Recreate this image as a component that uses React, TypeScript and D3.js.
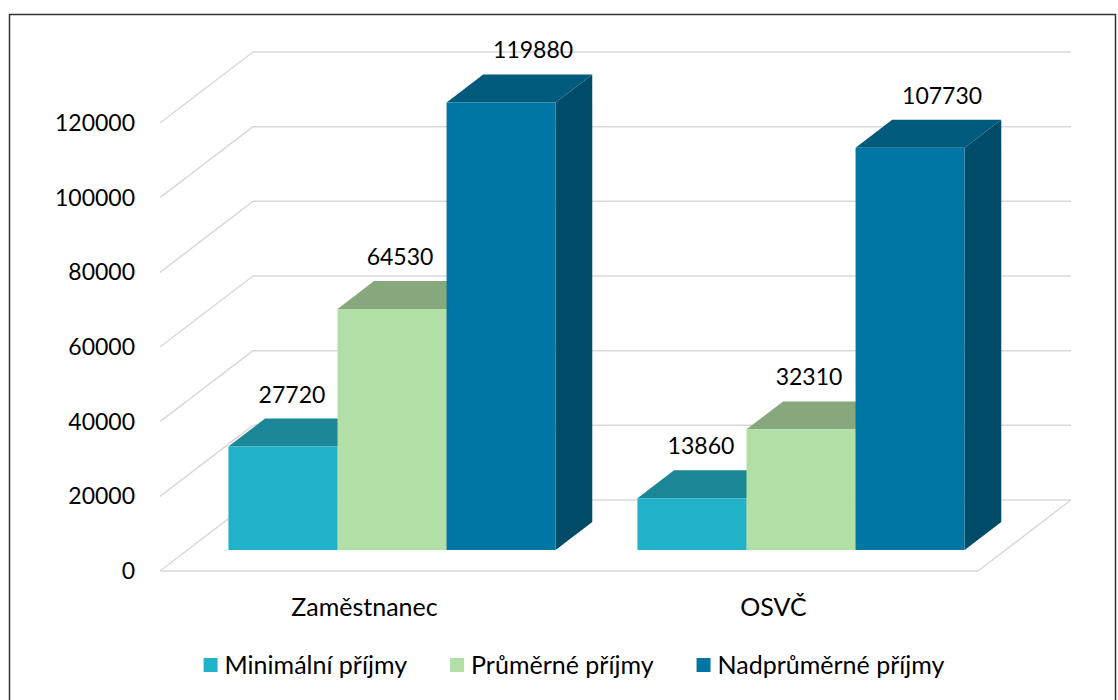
import * as React from 'react';
import { select, scaleLinear, scaleBand } from 'd3';

const categories = ['Zaměstnanec', 'OSVČ'];
const seriesNames = ['Minimální příjmy', 'Průměrné příjmy', 'Nadprůměrné příjmy'];
const minimalni = [27720, 13860];
const prumerne = [64530, 32310];
const nadprumerne = [119880, 107730];
const yTicks = [0, 20000, 40000, 60000, 80000, 100000, 120000];

const frontColors = ['#21B2C9', '#B2DFA6', '#0076A4'];
const topColors = ['#1B8796', '#86A87C', '#005A7C'];
const sideColors = ['#187684', '#76956E', '#004C68'];

const FONT = 'Lato, "Open Sans", sans-serif';

export default class App extends React.Component<{}, {}> {
    node: SVGSVGElement | null = null;

    componentDidMount() {
        this.draw();
    }

    draw() {
        const svg = select(this.node);
        svg.selectAll('*').remove();

        const series = [minimalni, prumerne, nadprumerne];

        // floor / wall geometry (front plane + oblique depth)
        const floorLeft = 160;
        const floorRight = 978;
        const depthX = 93;
        const depthY = 71;
        const barT0 = 0.296;
        const barT1 = 0.69;

        const y = scaleLinear().domain([0, 120000]).range([571, 123]);
        const x0 = scaleBand<string>().domain(categories).range([floorLeft, floorRight]);
        const groupWidth = x0.bandwidth() * 0.8;
        const x1 = scaleBand<string>().domain(seriesNames).range([0, groupWidth]);

        const p = (px: number, py: number, t: number) => [px + t * depthX, py - t * depthY];
        const pts = (arr: number[][]) => arr.map((d) => d.join(',')).join(' ');

        // outer frame
        svg.append('rect')
            .attr('x', 9.5).attr('y', 14.5)
            .attr('width', 1106).attr('height', 700)
            .attr('fill', 'none').attr('stroke', '#333').attr('stroke-width', 1.5);

        const grid = svg.append('g')
            .attr('stroke', '#d9d9d9').attr('stroke-width', 1.5).attr('fill', 'none');

        yTicks.forEach((t) => {
            const [bx, by] = p(floorLeft, y(t), 1);
            const [ex] = p(floorRight, y(t), 1);
            grid.append('line').attr('x1', floorLeft).attr('y1', y(t)).attr('x2', bx).attr('y2', by);
            grid.append('line').attr('x1', bx).attr('y1', by).attr('x2', ex).attr('y2', by);
        });
        // floor front and right edge
        const [rbx, rby] = p(floorRight, y(0), 1);
        grid.append('line').attr('x1', floorLeft).attr('y1', y(0)).attr('x2', floorRight).attr('y2', y(0));
        grid.append('line').attr('x1', floorRight).attr('y1', y(0)).attr('x2', rbx).attr('y2', rby);

        // y tick labels
        svg.append('g')
            .selectAll('text')
            .data(yTicks)
            .enter()
            .append('text')
            .attr('x', 135)
            .attr('y', (d) => y(d))
            .attr('dy', '0.35em')
            .attr('text-anchor', 'end')
            .attr('font-family', FONT)
            .attr('font-size', 23)
            .attr('fill', '#000')
            .text((d) => String(d));

        // bars, drawn left to right so right neighbours hide hidden faces
        const bars = svg.append('g');
        const labelDx = [9, 8, 32];
        const labels: { x: number; y: number; v: number }[] = [];

        categories.forEach((c, ci) => {
            const gx = (x0(c) as number) + (x0.bandwidth() - groupWidth) / 2;
            seriesNames.forEach((s, si) => {
                const v = series[si][ci];
                const xl = gx + (x1(s) as number);
                const xr = xl + x1.bandwidth();
                const yb = y(0);
                const yt = y(v);
                const a = p(xl, yb, barT0);
                const b = p(xr, yb, barT0);
                const cTop = p(xr, yt, barT0);
                const dTop = p(xl, yt, barT0);
                const eTop = p(xr, yt, barT1);
                const fTop = p(xl, yt, barT1);
                const gBot = p(xr, yb, barT1);

                bars.append('polygon').attr('points', pts([b, gBot, eTop, cTop])).attr('fill', sideColors[si]);
                bars.append('polygon').attr('points', pts([dTop, cTop, eTop, fTop])).attr('fill', topColors[si]);
                bars.append('polygon').attr('points', pts([a, b, cTop, dTop])).attr('fill', frontColors[si]);

                labels.push({ x: (xl + xr) / 2 + p(0, 0, barT0)[0] + labelDx[si], y: fTop[1] - 16, v });
            });
        });

        svg.append('g')
            .selectAll('text')
            .data(labels)
            .enter()
            .append('text')
            .attr('x', (d) => d.x)
            .attr('y', (d) => d.y)
            .attr('text-anchor', 'middle')
            .attr('font-family', FONT)
            .attr('font-size', 23)
            .attr('fill', '#000')
            .text((d) => String(d.v));

        // category labels
        svg.append('g')
            .selectAll('text')
            .data(categories)
            .enter()
            .append('text')
            .attr('x', (d) => (x0(d) as number) + x0.bandwidth() / 2)
            .attr('y', 607)
            .attr('dy', '0.35em')
            .attr('text-anchor', 'middle')
            .attr('font-family', FONT)
            .attr('font-size', 25)
            .attr('fill', '#000')
            .text((d) => d);

        // legend
        const legend = svg.append('g');
        const items = seriesNames.map((name, i) => {
            const g = legend.append('g');
            g.append('rect').attr('x', 0).attr('y', -7).attr('width', 14).attr('height', 14).attr('fill', frontColors[i]);
            const t = g.append('text')
                .attr('x', 21)
                .attr('dy', '0.35em')
                .attr('font-family', FONT)
                .attr('font-size', 25)
                .attr('fill', '#000')
                .text(name);
            const w = 21 + (t.node() as SVGTextElement).getComputedTextLength();
            return { g, w };
        });
        const gap = 43;
        const total = items.reduce((acc, it) => acc + it.w, 0) + gap * (items.length - 1);
        let cx = 574 - total / 2;
        items.forEach((it) => {
            it.g.attr('transform', `translate(${cx}, 665)`);
            cx += it.w + gap;
        });
    }

    render() {
        return (
            <svg
                ref={(node) => { this.node = node; }}
                width={1118}
                height={700}
                style={{ position: 'absolute', left: 0, top: 0, background: '#fff' }}
            />
        );
    }
}
